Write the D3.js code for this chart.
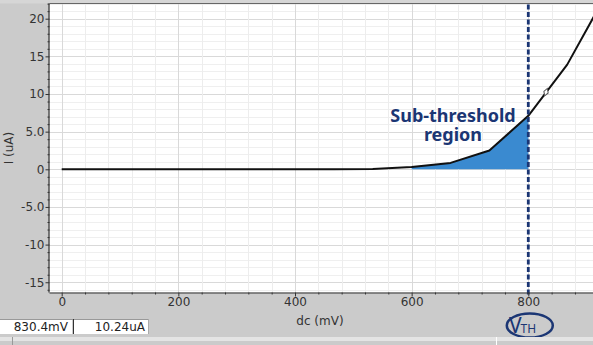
<!DOCTYPE html>
<html><head><meta charset="utf-8">
<script src="https://cdn.jsdelivr.net/npm/d3@7"></script>
<style>html,body{margin:0;padding:0;background:#cbcbcb;}svg{display:block;}</style>
</head><body>
<svg id="c" width="593" height="345"></svg>
<script>
// ---- data ----
const dcMV = [0, 66.7, 133.3, 200, 266.7, 333.3, 400, 466.7, 533.3, 600, 666.7, 733.3, 800, 866.7, 933.3];
const currentUA = [0, 0, 0, 0, 0, 0, 0, 0, 0.05, 0.3, 0.85, 2.5, 7.1, 13.9, 23.2];
const xTickValues = [0, 200, 400, 600, 800];
const xTickLabels = ["0", "200", "400", "600", "800"];
const yTickValues = [-15, -10, -5, 0, 5, 10, 15, 20];
const yTickLabels = ["-15", "-10", "-5.0", "0", "5.0", "10", "15", "20"];
const shadeRange = [600, 800];
const vth = 800;
const cursor = {x: 830.4, y: 10.24, xLabel: "830.4mV", yLabel: "10.24uA"};
const xTitle = "dc (mV)", yTitle = "I (uA)";
const annot = ["Sub-threshold", "region"];

// ---- layout ----
const svg = d3.select("#c");
const L = 49.5, T = 3.5, R = 593, B = 292.5;
const x = d3.scaleLinear().domain([0, 800]).range([61.7, 528.3]);
const y = d3.scaleLinear().domain([0, 20]).range([169.3, 18.7]);
const navy = "#1b3674";

svg.append("rect").attr("x",0).attr("y",0).attr("width",593).attr("height",345).attr("fill","#cbcbcb");
svg.append("rect").attr("x",0).attr("y",0).attr("width",593).attr("height",T).attr("fill","#d6d6d6");
svg.append("rect").attr("x",L).attr("y",T).attr("width",R-L).attr("height",B-T).attr("fill","#ffffff");

svg.append("clipPath").attr("id","pc").append("rect").attr("x",L).attr("y",T).attr("width",R-L).attr("height",B-T);
const g = svg.append("g").attr("clip-path","url(#pc)");

// grid
const xMinor = d3.range(-40, 960, 40), yMinor = d3.range(-17, 23, 1);
g.selectAll(".ym").data(yMinor).join("line").attr("x1",L).attr("x2",R)
  .attr("y1",d=>Math.round(y(d))+0.5).attr("y2",d=>Math.round(y(d))+0.5)
  .attr("stroke", d=> d%5===0 ? "#d9d9d9" : "#efefef").attr("stroke-width",1);
g.selectAll(".xm").data(xMinor).join("line").attr("y1",T).attr("y2",B)
  .attr("x1",d=>Math.round(x(d))+0.5).attr("x2",d=>Math.round(x(d))+0.5)
  .attr("stroke", d=> d%200===0 ? "#d9d9d9" : "#ededed").attr("stroke-width",1);

// shaded area
const pts = dcMV.map((d,i)=>[d,currentUA[i]]);
function interp(v){ for(let i=0;i<pts.length-1;i++){ if(v>=pts[i][0]&&v<=pts[i+1][0]){const t=(v-pts[i][0])/(pts[i+1][0]-pts[i][0]);return pts[i][1]+t*(pts[i+1][1]-pts[i][1]);}} return 0;}
const areaPts = [[shadeRange[0], interp(shadeRange[0])]].concat(pts.filter(p=>p[0]>shadeRange[0]&&p[0]<shadeRange[1])).concat([[shadeRange[1], interp(shadeRange[1])]]);
g.append("path").datum(areaPts)
  .attr("d", d3.area().x(d=>x(d[0])).y0(y(0)).y1(d=>y(d[1])))
  .attr("fill","#3a8ad0");

// curve
g.append("path").datum(pts)
  .attr("d", d3.line().x(d=>x(d[0])).y(d=>y(d[1])))
  .attr("fill","none").attr("stroke","#111").attr("stroke-width",2).attr("stroke-linejoin","round");

// cursor marker
const cx = x(cursor.x), cy = y(cursor.y);
g.append("path").attr("d", d3.symbol().type(d3.symbolDiamond).size(18)())
  .attr("transform",`translate(${cx},${cy}) rotate(20)`)
  .attr("fill","#fff").attr("stroke","#555").attr("stroke-width",1);

// VTH dashed line
svg.append("line").attr("x1",x(vth)).attr("x2",x(vth)).attr("y1",T+1).attr("y2",B+4)
  .attr("stroke",navy).attr("stroke-width",2.8).attr("stroke-dasharray","5,2.5");

// border lines
svg.append("line").attr("x1",L).attr("x2",R).attr("y1",T).attr("y2",T).attr("stroke","#666").attr("stroke-width",1.2);

// axes
const xAxis = svg.append("g").attr("transform",`translate(0,${B})`)
  .call(d3.axisBottom(x).tickValues(xTickValues).tickFormat((d,i)=>xTickLabels[i]).tickSize(4).tickSizeOuter(0));
const xAxisMinor = svg.append("g").attr("transform",`translate(0,${B})`)
  .call(d3.axisBottom(x).tickValues(xMinor.filter(d=>x(d)>L && x(d)<R && d%200!==0)).tickFormat("").tickSize(2).tickSizeOuter(0));
const yAxis = svg.append("g").attr("transform",`translate(${L},0)`)
  .call(d3.axisLeft(y).tickValues(yTickValues).tickFormat((d,i)=>yTickLabels[i]).tickSize(4).tickSizeOuter(0));
const yAxisMinor = svg.append("g").attr("transform",`translate(${L},0)`)
  .call(d3.axisLeft(y).tickValues(yMinor.filter(d=>y(d)>T && y(d)<B && d%5!==0)).tickFormat("").tickSize(2).tickSizeOuter(0));
[xAxis,xAxisMinor,yAxis,yAxisMinor].forEach(a=>{
  a.select(".domain").attr("stroke","#333").attr("stroke-width",1.2);
  a.selectAll(".tick line").attr("stroke","#333");
});
xAxisMinor.select(".domain").remove(); yAxisMinor.select(".domain").remove();
xAxis.select(".domain").attr("d",`M${L},0.5H${R}`);
yAxis.select(".domain").attr("d",`M-0.5,${T}V${B}`);
xAxis.selectAll(".tick text").attr("font-family","DejaVu Sans").attr("font-size",12).attr("fill","#333").attr("dy","0.55em").attr("y",7);
yAxis.selectAll(".tick text").attr("font-family","DejaVu Sans").attr("font-size",12).attr("fill","#333").attr("x",-5);

// titles
svg.append("text").attr("x",320).attr("y",325).attr("text-anchor","middle")
  .attr("font-family","DejaVu Sans").attr("font-size",12).attr("fill","#333").text(xTitle);
svg.append("text").attr("transform","translate(13,148) rotate(-90)").attr("text-anchor","middle")
  .attr("font-family","DejaVu Sans").attr("font-size",12).attr("fill","#333").text(yTitle);

// annotation
svg.append("text").attr("x",453).attr("y",122).attr("text-anchor","middle")
  .attr("font-family","Noto Sans").attr("font-weight","bold").attr("font-size",18).attr("fill",navy).text(annot[0]);
svg.append("text").attr("x",453).attr("y",141).attr("text-anchor","middle")
  .attr("font-family","Noto Sans").attr("font-weight","bold").attr("font-size",18).attr("fill",navy).text(annot[1]);

// VTH ellipse
svg.append("ellipse").attr("cx",x(vth)+1.5).attr("cy",325.5).attr("rx",23).attr("ry",12)
  .attr("fill","none").attr("stroke",navy).attr("stroke-width",2.5);
const vt = svg.append("text").attr("x",509).attr("y",333).attr("font-family","Noto Sans").attr("fill",navy);
vt.append("tspan").attr("font-size",21).text("V");
vt.append("tspan").attr("font-size",12).attr("dx",-1).text("TH");

// status bar
svg.append("rect").attr("x",0).attr("y",319).attr("width",72).attr("height",15).attr("fill","#fff");
svg.append("rect").attr("x",73.5).attr("y",319).attr("width",75).attr("height",15).attr("fill","#fff");
svg.append("line").attr("x1",0).attr("x2",149).attr("y1",319.5).attr("y2",319.5).attr("stroke","#999");
svg.append("line").attr("x1",73.5).attr("x2",73.5).attr("y1",319).attr("y2",334).attr("stroke","#333");
svg.append("line").attr("x1",148.5).attr("x2",148.5).attr("y1",319).attr("y2",334).attr("stroke","#aaa");
svg.append("rect").attr("x",0).attr("y",337).attr("width",593).attr("height",4).attr("fill","#e4e4e4");
svg.append("line").attr("x1",12.5).attr("x2",12.5).attr("y1",337).attr("y2",345).attr("stroke","#999");
svg.append("line").attr("x1",496.5).attr("x2",496.5).attr("y1",337).attr("y2",345).attr("stroke","#fff");
svg.append("text").attr("x",68).attr("y",331).attr("text-anchor","end")
  .attr("font-family","DejaVu Sans").attr("font-size",12).attr("fill","#222").text(cursor.xLabel);
svg.append("text").attr("x",145).attr("y",331).attr("text-anchor","end")
  .attr("font-family","DejaVu Sans").attr("font-size",12).attr("fill","#222").text(cursor.yLabel);
</script>
</body></html>
